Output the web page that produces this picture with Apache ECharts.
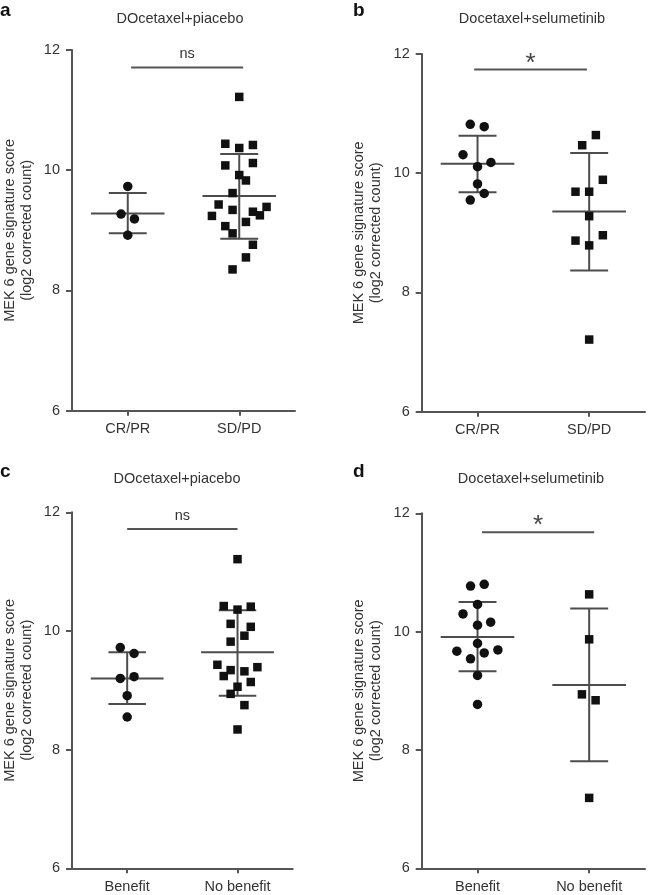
<!DOCTYPE html>
<html><head><meta charset="utf-8">
<script src="https://cdn.jsdelivr.net/npm/echarts@6/dist/echarts.min.js"></script>
<style>html,body{margin:0;padding:0;background:#fff}#c{width:648px;height:895px}</style>
</head><body><div id="c"></div>
<script>
const FONT = '"Liberation Sans", Arial, Helvetica, sans-serif';
const TXT = '#333333';
const AXC = '#555555';
const MK = '#111111';

const panelLetters = ['a', 'b', 'c', 'd'];
const panelTitles = ['DOcetaxel+piacebo', 'Docetaxel+selumetinib', 'DOcetaxel+piacebo', 'Docetaxel+selumetinib'];
const catsTop = ['CR/PR', 'SD/PD'];
const catsBottom = ['Benefit', 'No benefit'];
const yAxisName = 'MEK 6 gene signature score\n(log2 corrected count)';

// Panel a: DOcetaxel+piacebo, CR/PR vs SD/PD
const aG1 = [9.73, 9.27, 9.19, 8.92];
const aG1Jit = [0, -0.12, 0.12, 0];
const aG2 = [11.22, 10.44, 10.37, 10.42, 10.08, 10.12, 9.92, 9.83, 9.62, 9.43, 9.34, 9.24, 9.31, 9.25, 9.39, 9.14, 9.07, 8.95, 8.76, 8.55, 8.35];
const aG2Jit = [0, -0.25, 0, 0.245, -0.25, 0.245, 0, 0.12, -0.12, -0.37, -0.12, -0.49, 0.245, 0.37, 0.49, 0.12, -0.25, -0.12, 0.245, 0.12, -0.12];
const aMean = [9.28, 9.57];
const aLo = [8.95, 8.86];
const aHi = [9.62, 10.27];

// Panel b: Docetaxel+selumetinib, CR/PR vs SD/PD
const bG1 = [10.82, 10.78, 10.31, 10.18, 10.11, 9.82, 9.66, 9.55];
const bG1Jit = [-0.13, 0.12, -0.26, 0.24, 0, 0, 0.12, -0.13];
const bG2 = [10.64, 10.47, 9.89, 9.69, 9.69, 9.28, 8.96, 8.87, 8.79, 7.21];
const bG2Jit = [0.12, -0.125, 0.245, -0.245, 0, 0, 0.245, -0.245, 0, 0];
const bMean = [10.16, 9.36];
const bLo = [9.68, 8.37];
const bHi = [10.63, 10.34];

// Panel c: DOcetaxel+piacebo, Benefit vs No benefit
const cG1 = [9.72, 9.62, 9.20, 9.23, 8.91, 8.55];
const cG1Jit = [-0.125, 0.125, -0.125, 0.125, 0, 0];
const cG2 = [11.21, 10.42, 10.36, 10.41, 10.12, 10.07, 9.92, 9.82, 9.43, 9.34, 9.32, 9.39, 9.24, 9.14, 9.06, 8.94, 8.75, 8.34];
const cG2Jit = [0, -0.25, 0, 0.24, -0.125, 0.24, 0.125, -0.125, -0.365, -0.125, 0.125, 0.36, -0.25, 0.24, 0, -0.125, 0.125, 0];
const cMean = [9.20, 9.64];
const cLo = [8.77, 8.91];
const cHi = [9.64, 10.35];

// Panel d: Docetaxel+selumetinib, Benefit vs No benefit
const dG1 = [10.77, 10.80, 10.46, 10.30, 10.16, 10.11, 9.80, 9.67, 9.69, 9.64, 9.54, 9.26, 8.77];
const dG1Jit = [-0.125, 0.12, 0, -0.26, 0.235, 0, 0, -0.37, 0.365, 0.12, -0.125, 0, 0];
const dG2 = [10.63, 9.87, 8.94, 8.84, 7.19];
const dG2Jit = [0, 0, -0.13, 0.115, 0];
const dMean = [9.91, 9.10];
const dLo = [9.33, 7.81];
const dHi = [10.50, 10.39];

// significance annotations
const sigLabels = ['ns', '*', 'ns', '*'];
const sigY = [11.71, 11.74, 11.72, 11.68];
const sigX1 = [1.06, 0.94, 1.0, 1.08];
const sigX2 = [3.07, 2.96, 3.0, 3.09];

const groupPos = [1, 3];

const panels = [
  {g1: aG1, j1: aG1Jit, g2: aG2, j2: aG2Jit, mean: aMean, lo: aLo, hi: aHi, cats: catsTop},
  {g1: bG1, j1: bG1Jit, g2: bG2, j2: bG2Jit, mean: bMean, lo: bLo, hi: bHi, cats: catsTop},
  {g1: cG1, j1: cG1Jit, g2: cG2, j2: cG2Jit, mean: cMean, lo: cLo, hi: cHi, cats: catsBottom},
  {g1: dG1, j1: dG1Jit, g2: dG2, j2: dG2Jit, mean: dMean, lo: dLo, hi: dHi, cats: catsBottom}
];

const gridBoxes = [
  {left: 70.7, top: 50, width: 224.3, height: 360.7},
  {left: 421.7, top: 54, width: 223.3, height: 357.7},
  {left: 69.3, top: 512.3, width: 223.4, height: 356},
  {left: 421.7, top: 513.3, width: 223.3, height: 355}
];
const titlePos = [[180, 11], [532, 11], [177, 471], [531, 471]];
const letterPos = [[0, 1], [353, 1], [0, 462], [353, 462]];

const lineStyle = {stroke: '#4d4d4d', lineWidth: 2};

function errRender(params, api) {
  const x = api.value(0), m = api.value(1), lo = api.value(2), hi = api.value(3);
  const mw = 0.66, cw = 0.34;
  const a1 = api.coord([x - mw, m]), a2 = api.coord([x + mw, m]);
  const v1 = api.coord([x, lo]), v2 = api.coord([x, hi]);
  const l1 = api.coord([x - cw, lo]), l2 = api.coord([x + cw, lo]);
  const h1 = api.coord([x - cw, hi]), h2 = api.coord([x + cw, hi]);
  const L = (p, q) => ({type: 'line', shape: {x1: p[0], y1: p[1], x2: q[0], y2: q[1]}, style: lineStyle});
  return {type: 'group', children: [L(a1, a2), L(v1, v2), L(l1, l2), L(h1, h2)]};
}

function sigRenderFactory(label) {
  return function (params, api) {
    const p1 = api.coord([api.value(0), api.value(2)]);
    const p2 = api.coord([api.value(1), api.value(2)]);
    const star = label === '*';
    return {type: 'group', children: [
      {type: 'line', shape: {x1: p1[0], y1: p1[1], x2: p2[0], y2: p2[1]}, style: {stroke: '#555', lineWidth: 2}},
      {type: 'text', x: (p1[0] + p2[0]) / 2, y: p1[1] + (star ? 7 : -13),
        style: {text: label, fontFamily: FONT, fontSize: star ? 26 : 14.5, fill: star ? '#444' : TXT,
          align: 'center', verticalAlign: star ? 'bottom' : 'middle'}}
    ]};
  };
}

const grid = [], xAxis = [], yAxis = [], series = [], title = [];
panels.forEach((p, i) => {
  grid.push(Object.assign({containLabel: false}, gridBoxes[i]));
  xAxis.push({
    type: 'value', gridIndex: i, min: 0, max: 4,
    splitLine: {show: false},
    axisLine: {show: true, lineStyle: {color: AXC, width: 2}},
    axisTick: {show: true, customValues: groupPos, length: 5, lineStyle: {color: AXC, width: 2}},
    axisLabel: {show: true, customValues: groupPos, margin: 11, fontSize: 14.5, color: TXT, fontFamily: FONT,
      formatter: v => p.cats[groupPos.indexOf(Math.round(v))] || ''}
  });
  yAxis.push({
    type: 'value', gridIndex: i, min: 6, max: 12, interval: 2,
    splitLine: {show: false},
    axisLine: {show: true, lineStyle: {color: AXC, width: 2}},
    axisTick: {show: true, length: 6, lineStyle: {color: AXC, width: 2}},
    axisLabel: {margin: 12, fontSize: 14.5, color: TXT, fontFamily: FONT},
    name: yAxisName, nameLocation: 'middle', nameRotate: 90, nameGap: 37,
    nameTextStyle: {fontSize: 14.5, color: TXT, fontFamily: FONT, lineHeight: 17}
  });
  series.push({
    type: 'custom', xAxisIndex: i, yAxisIndex: i, z: 2,
    renderItem: errRender,
    data: p.mean.map((m, k) => [groupPos[k], m, p.lo[k], p.hi[k]])
  });
  series.push({
    type: 'scatter', xAxisIndex: i, yAxisIndex: i, z: 3,
    symbol: 'circle', symbolSize: 9.5, itemStyle: {color: MK, opacity: 1},
    data: p.g1.map((v, k) => [groupPos[0] + p.j1[k], v])
  });
  series.push({
    type: 'scatter', xAxisIndex: i, yAxisIndex: i, z: 3,
    symbol: 'rect', symbolSize: 8.5, itemStyle: {color: MK, opacity: 1},
    data: p.g2.map((v, k) => [groupPos[1] + p.j2[k], v])
  });
  series.push({
    type: 'custom', xAxisIndex: i, yAxisIndex: i, z: 2,
    renderItem: sigRenderFactory(sigLabels[i]),
    data: [[sigX1[i], sigX2[i], sigY[i]]]
  });
  title.push({
    text: panelTitles[i], left: titlePos[i][0], top: titlePos[i][1], textAlign: 'center', padding: 0,
    textStyle: {fontSize: 14.5, fontWeight: 'normal', color: TXT, fontFamily: FONT}
  });
  title.push({
    text: panelLetters[i], left: letterPos[i][0], top: letterPos[i][1], padding: 0,
    textStyle: {fontSize: 19, fontWeight: 'bold', color: '#111', fontFamily: FONT}
  });
});

const chart = echarts.init(document.getElementById('c'), null, {renderer: 'canvas'});
chart.setOption({
  backgroundColor: '#ffffff',
  animation: false,
  title: title,
  grid: grid,
  xAxis: xAxis,
  yAxis: yAxis,
  series: series
});
</script>
</body></html>
